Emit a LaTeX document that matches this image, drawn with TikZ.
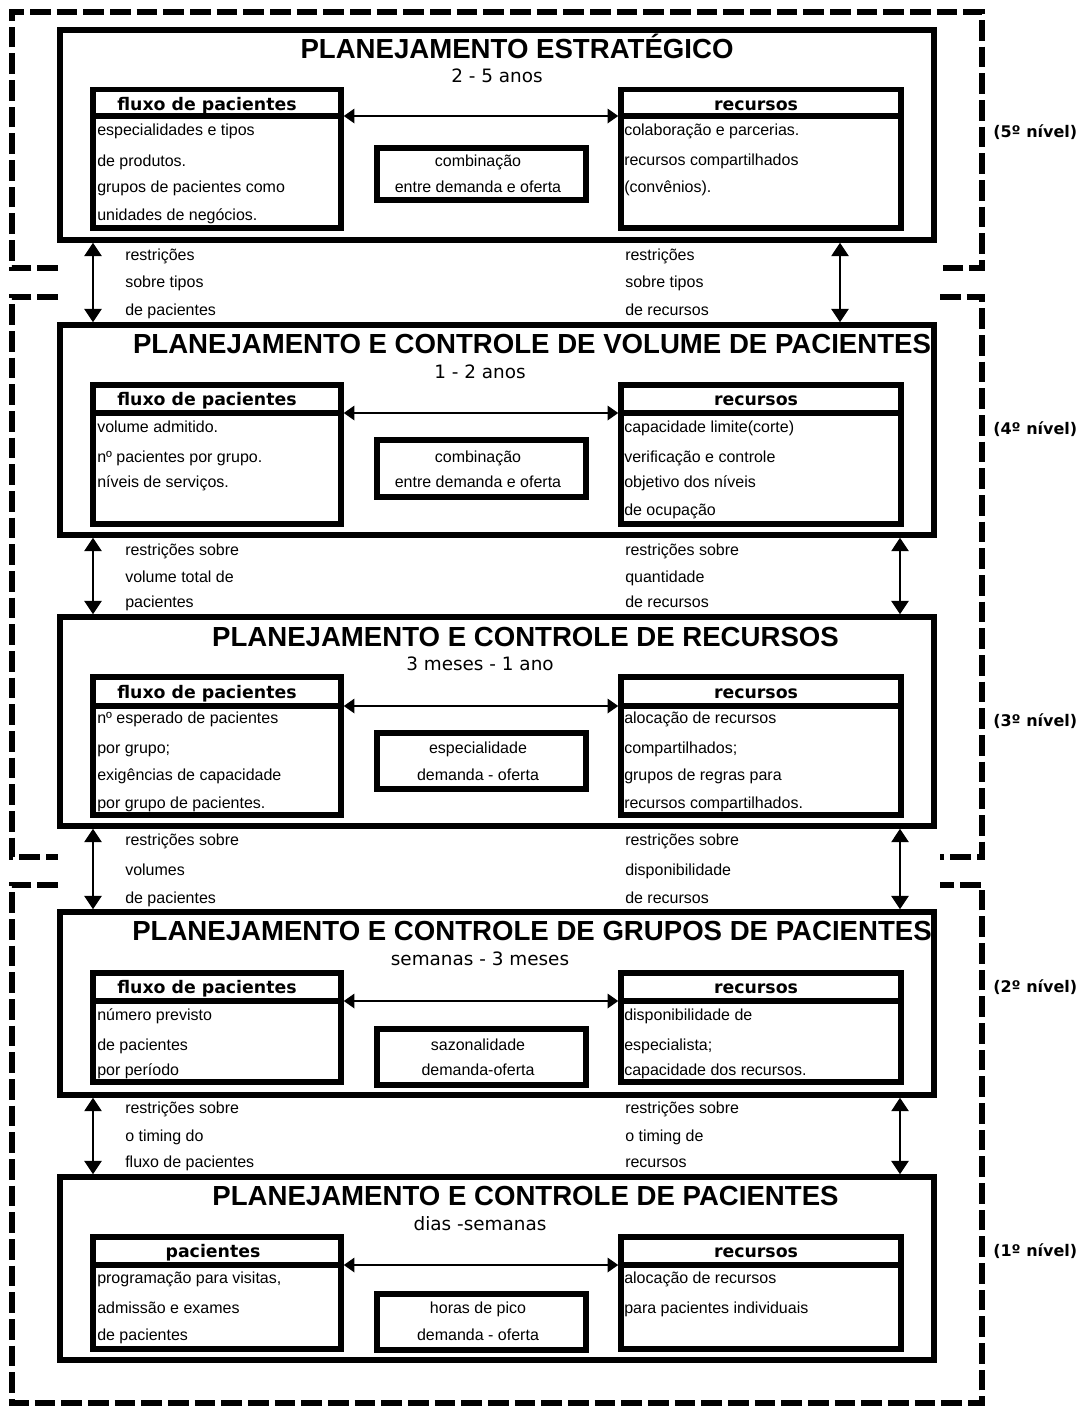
\documentclass[tikz,border=0pt]{standalone}
\usepackage{fontspec}
\setmainfont{Liberation Sans}
\newfontfamily\dejavu{DejaVu Sans}
\usetikzlibrary{arrows.meta,fit,calc}

\tikzset{
  lvbox/.style={draw, line width=4.2pt, inner sep=0pt},
  hdrbox/.style={draw, line width=4pt, inner sep=0pt, outer sep=0pt},
  grpline/.style={line width=3.8pt, dash pattern=on 15.5pt off 4.5pt, line join=miter},
  vlink/.style={line width=1.1pt, {Triangle[width=13pt,length=10pt]}-{Triangle[width=13pt,length=10pt]}},
  hlink/.style={line width=1pt, {Triangle[width=11pt,length=8pt]}-{Triangle[width=11pt,length=8pt]}},
  ttl/.style={anchor=base, inner sep=0pt, font=\fontsize{20.7}{24}\selectfont\bfseries},
  subttl/.style={anchor=base, inner sep=0pt, font=\dejavu\fontsize{13.8}{16}\selectfont},
  hdr/.style={anchor=base, inner sep=0pt, font=\dejavu\bfseries\fontsize{13}{15}\selectfont},
  txt/.style={anchor=base west, inner sep=0pt, font=\fontsize{12}{14}\selectfont},
  midtxt/.style={anchor=base, inner sep=0pt, font=\fontsize{12}{14}\selectfont},
  lvltxt/.style={anchor=base west, inner sep=0pt, font=\dejavu\bfseries\fontsize{12}{14}\selectfont},
}

\begin{document}
\begin{tikzpicture}[x=0.75pt, y=-0.75pt]
\useasboundingbox[fill=white] (0,0) rectangle (1083,1407);

% x positions of the vertical links
\coordinate (xl) at (93,0);
\coordinate (xr) at (900,0);
\coordinate (xrtop) at (840,0);

% dashed groups of levels
\draw[grpline] (58,268) -- (12,268) -- (12,12) -- (982,12) -- (982,268) -- (940,268);
\draw[grpline] (58,297) -- (12,297) -- (12,857) -- (58,857);
\draw[grpline] (940,297) -- (982,297) -- (982,857) -- (940,857);
\draw[grpline] (58,885) -- (12,885) -- (12,1403) -- (982,1403) -- (982,885) -- (940,885);

% ---------- level 5 ----------
\node[lvbox, fit={(60,30) (934,240)}] (L5) {};
\node[ttl] (t5) at (517,58) {PLANEJAMENTO ESTRATÉGICO};
\node[subttl] (s5) at (497,82) {2 - 5 anos};
\node[lvbox, fit={(93,89.5) (341,228)}] (lf5) {};
\node[hdrbox, fit={(93,89.5) (341,116)}] (hl5) {};
\node[lvbox, fit={(621,89.5) (901,228)}] (rt5) {};
\node[hdrbox, fit={(621,89.5) (901,116)}] (hr5) {};
\node[lvbox, fit={(377,148) (586,200)}] (m5) {};
\node[hdr] (hl5t) at (207,110) {fluxo de pacientes};
\node[hdr] (hr5t) at (756,110) {recursos};
\draw[hlink] (lf5.east |- hl5.south) -- (rt5.west |- hr5.south);
\node[txt] (a5a) at (97,135) {especialidades e tipos};
\node[txt] (a5b) at (97,166) {de produtos.};
\node[txt] (a5c) at (97,192) {grupos de pacientes como};
\node[txt] (a5d) at (97,220) {unidades de negócios.};
\node[txt] (b5a) at (624,135) {colaboração e parcerias.};
\node[txt] (b5b) at (624,165) {recursos compartilhados};
\node[txt] (b5c) at (624,192) {(convênios).};
\node[midtxt] (c5a) at (478,166) {combinação};
\node[midtxt] (c5b) at (478,192) {entre demanda e oferta};
\node[lvltxt] (n5) at (993,137) {(5º nível)};

% ---------- level 4 ----------
\node[lvbox, fit={(60,325) (934,535)}] (L4) {};
\node[ttl] (t4) at (532,353) {PLANEJAMENTO E CONTROLE DE VOLUME DE PACIENTES};
\node[subttl] (s4) at (480,378) {1 - 2 anos};
\node[lvbox, fit={(93,385) (341,524)}] (lf4) {};
\node[hdrbox, fit={(93,385) (341,413)}] (hl4) {};
\node[lvbox, fit={(621,385) (901,524)}] (rt4) {};
\node[hdrbox, fit={(621,385) (901,413)}] (hr4) {};
\node[lvbox, fit={(377,440) (586,497)}] (m4) {};
\node[hdr] (hl4t) at (207,405) {fluxo de pacientes};
\node[hdr] (hr4t) at (756,405) {recursos};
\draw[hlink] (lf4.east |- hl4.south) -- (rt4.west |- hr4.south);
\node[txt] (a4a) at (97,432) {volume admitido.};
\node[txt] (a4b) at (97,462) {nº pacientes por grupo.};
\node[txt] (a4c) at (97,487) {níveis de serviços.};
\node[txt] (b4a) at (624,432) {capacidade limite(corte)};
\node[txt] (b4b) at (624,462) {verificação e controle};
\node[txt] (b4c) at (624,487) {objetivo dos níveis};
\node[txt] (b4d) at (624,515) {de ocupação};
\node[midtxt] (c4a) at (478,462) {combinação};
\node[midtxt] (c4b) at (478,487) {entre demanda e oferta};
\node[lvltxt] (n4) at (993,434) {(4º nível)};

% ---------- level 3 ----------
\node[lvbox, fit={(60,617) (934,826)}] (L3) {};
\node[ttl] (t3) at (525.5,646) {PLANEJAMENTO E CONTROLE DE RECURSOS};
\node[subttl] (s3) at (480,670) {3 meses - 1 ano};
\node[lvbox, fit={(93,677) (341,815)}] (lf3) {};
\node[hdrbox, fit={(93,677) (341,706)}] (hl3) {};
\node[lvbox, fit={(621,677) (901,815)}] (rt3) {};
\node[hdrbox, fit={(621,677) (901,706)}] (hr3) {};
\node[lvbox, fit={(377,733) (586,789)}] (m3) {};
\node[hdr] (hl3t) at (207,698) {fluxo de pacientes};
\node[hdr] (hr3t) at (756,698) {recursos};
\draw[hlink] (lf3.east |- hl3.south) -- (rt3.west |- hr3.south);
\node[txt] (a3a) at (97,723) {nº esperado de pacientes};
\node[txt] (a3b) at (97,753) {por grupo;};
\node[txt] (a3c) at (97,780) {exigências de capacidade};
\node[txt] (a3d) at (97,808) {por grupo de pacientes.};
\node[txt] (b3a) at (624,723) {alocação de recursos};
\node[txt] (b3b) at (624,753) {compartilhados;};
\node[txt] (b3c) at (624,780) {grupos de regras para};
\node[txt] (b3d) at (624,808) {recursos compartilhados.};
\node[midtxt] (c3a) at (478,753) {especialidade};
\node[midtxt] (c3b) at (478,780) {demanda - oferta};
\node[lvltxt] (n3) at (993,726) {(3º nível)};

% ---------- level 2 ----------
\node[lvbox, fit={(60,912) (934,1095)}] (L2) {};
\node[ttl] (t2) at (532,940) {PLANEJAMENTO E CONTROLE DE GRUPOS DE PACIENTES};
\node[subttl] (s2) at (480,965) {semanas - 3 meses};
\node[lvbox, fit={(93,973) (341,1082)}] (lf2) {};
\node[hdrbox, fit={(93,973) (341,1001)}] (hl2) {};
\node[lvbox, fit={(621,973) (901,1082)}] (rt2) {};
\node[hdrbox, fit={(621,973) (901,1001)}] (hr2) {};
\node[lvbox, fit={(377,1029) (586,1085)}] (m2) {};
\node[hdr] (hl2t) at (207,993) {fluxo de pacientes};
\node[hdr] (hr2t) at (756,993) {recursos};
\draw[hlink] (lf2.east |- hl2.south) -- (rt2.west |- hr2.south);
\node[txt] (a2a) at (97,1020) {número previsto};
\node[txt] (a2b) at (97,1050) {de pacientes};
\node[txt] (a2c) at (97,1075) {por período};
\node[txt] (b2a) at (624,1020) {disponibilidade de};
\node[txt] (b2b) at (624,1050) {especialista;};
\node[txt] (b2c) at (624,1075) {capacidade dos recursos.};
\node[midtxt] (c2a) at (478,1050) {sazonalidade};
\node[midtxt] (c2b) at (478,1075) {demanda-oferta};
\node[lvltxt] (n2) at (993,992) {(2º nível)};

% ---------- level 1 ----------
\node[lvbox, fit={(60,1177) (934,1360)}] (L1) {};
\node[ttl] (t1) at (525.5,1205) {PLANEJAMENTO E CONTROLE DE PACIENTES};
\node[subttl] (s1) at (480,1230) {dias -semanas};
\node[lvbox, fit={(93,1237) (341,1349)}] (lf1) {};
\node[hdrbox, fit={(93,1237) (341,1265)}] (hl1) {};
\node[lvbox, fit={(621,1237) (901,1349)}] (rt1) {};
\node[hdrbox, fit={(621,1237) (901,1265)}] (hr1) {};
\node[lvbox, fit={(377,1294) (586,1350)}] (m1) {};
\node[hdr] (hl1t) at (213,1257) {pacientes};
\node[hdr] (hr1t) at (756,1257) {recursos};
\draw[hlink] (lf1.east |- hl1.south) -- (rt1.west |- hr1.south);
\node[txt] (a1a) at (97,1283) {programação para visitas,};
\node[txt] (a1b) at (97,1313) {admissão e exames};
\node[txt] (a1c) at (97,1340) {de pacientes};
\node[txt] (b1a) at (624,1283) {alocação de recursos};
\node[txt] (b1b) at (624,1313) {para pacientes individuais};
\node[midtxt] (c1a) at (478,1313) {horas de pico};
\node[midtxt] (c1b) at (478,1340) {demanda - oferta};
\node[lvltxt] (n1) at (993,1256) {(1º nível)};

% ---------- links between levels ----------
\draw[vlink] (L5.south -| xl) -- (L4.north -| xl);
\draw[vlink] (L5.south -| xrtop) -- (L4.north -| xrtop);
\node[txt] (g5a) at (125,260) {restrições};
\node[txt] (g5b) at (125,287) {sobre tipos};
\node[txt] (g5c) at (125,315) {de pacientes};
\node[txt] (h5a) at (625,260) {restrições};
\node[txt] (h5b) at (625,287) {sobre tipos};
\node[txt] (h5c) at (625,315) {de recursos};

\draw[vlink] (L4.south -| xl) -- (L3.north -| xl);
\draw[vlink] (L4.south -| xr) -- (L3.north -| xr);
\node[txt] (g4a) at (125,555) {restrições sobre};
\node[txt] (g4b) at (125,582) {volume total de};
\node[txt] (g4c) at (125,607) {pacientes};
\node[txt] (h4a) at (625,555) {restrições sobre};
\node[txt] (h4b) at (625,582) {quantidade};
\node[txt] (h4c) at (625,607) {de recursos};

\draw[vlink] (L3.south -| xl) -- (L2.north -| xl);
\draw[vlink] (L3.south -| xr) -- (L2.north -| xr);
\node[txt] (g3a) at (125,845) {restrições sobre};
\node[txt] (g3b) at (125,875) {volumes};
\node[txt] (g3c) at (125,903) {de pacientes};
\node[txt] (h3a) at (625,845) {restrições sobre};
\node[txt] (h3b) at (625,875) {disponibilidade};
\node[txt] (h3c) at (625,903) {de recursos};

\draw[vlink] (L2.south -| xl) -- (L1.north -| xl);
\draw[vlink] (L2.south -| xr) -- (L1.north -| xr);
\node[txt] (g2a) at (125,1113) {restrições sobre};
\node[txt] (g2b) at (125,1141) {o timing do};
\node[txt] (g2c) at (125,1167) {fluxo de pacientes};
\node[txt] (h2a) at (625,1113) {restrições sobre};
\node[txt] (h2b) at (625,1141) {o timing de};
\node[txt] (h2c) at (625,1167) {recursos};
\end{tikzpicture}
\end{document}
